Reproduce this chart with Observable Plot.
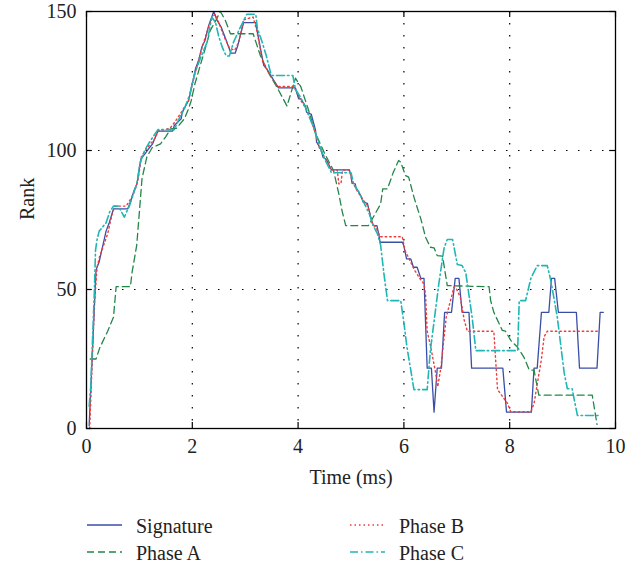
<!DOCTYPE html>
<html><head><meta charset="utf-8">
<script src="https://cdn.jsdelivr.net/npm/d3@7"></script>
<script src="https://cdn.jsdelivr.net/npm/@observablehq/plot@0.6"></script>
<style>
body{margin:0;background:#fff;font-family:"Liberation Serif",serif;}
#chart{width:640px;height:566px;position:relative;overflow:hidden;}
</style></head><body><div id="chart"></div>
<script>
// ---- data (time in ms, rank) ----
const xTicks = [0, 2, 4, 6, 8, 10];
const yTicks = [0, 50, 100, 150];

const sigT = [0.05,0.18,0.24,0.37,0.43,0.51,0.78,0.84,0.9,0.955,1.0,1.03,1.13,1.19,1.25,1.35,1.63,1.66,1.79,1.81,1.93,2.0,2.06,2.12,2.18,2.24,2.31,2.405,2.47,2.545,2.63,2.73,2.81,2.86,2.97,3.2,3.23,3.35,3.42,3.48,3.63,3.95,4.01,4.05,4.14,4.16,4.25,4.33,4.35,4.43,4.47,4.52,4.56,4.63,4.97,5.0,5.02,5.08,5.1,5.15,5.2,5.23,5.31,5.35,5.38,5.42,5.49,5.53,5.55,5.97,6.0,6.05,6.13,6.18,6.25,6.32,6.38,6.44,6.52,6.57,6.63,6.71,6.77,6.9,6.97,7.04,7.1,7.23,7.28,7.87,7.94,8.41,8.46,8.52,8.6,8.74,8.79,8.85,8.92,9.26,9.32,9.65,9.71,9.77];
const sigR = [1,57,60,71,74,79,79,82,85.6,88,94,97,99.4,101,102.4,107,107,109,111.4,113.8,118,124,129.4,132.4,137.2,139.6,145,150,146.8,144.4,140.2,135,135,137.8,146,146,142.6,130.6,129,127,122.5,122.5,118.6,118.6,116,113.8,113,107.2,103,100.6,97.6,97,95.8,93,93,91,88.2,88,86.2,85,83.2,81.4,81,77.8,75.4,73,73,69.4,67,67,65.7,61,61,58,58,54,54,21.7,21.7,5.9,21.7,21.7,41.8,41.8,54,54,41.8,41.8,21.7,21.7,5.9,5.9,21.7,21.7,41.8,41.8,54,54,41.8,41.8,21.7,21.7,41.8,41.8];

const phaseAT = [0.07,0.18,0.25,0.4,0.51,0.56,0.83,0.86,0.95,1.0,1.05,1.14,1.24,1.4,1.5,1.59,1.7,1.85,1.93,1.98,2.05,2.15,2.25,2.34,2.45,2.53,2.62,2.72,3.15,3.29,3.45,3.6,3.79,3.95,4.05,4.2,4.32,4.5,4.67,4.77,4.83,4.9,5.33,5.45,5.56,5.6,5.69,5.8,5.9,5.94,6.03,6.09,6.19,6.32,6.41,6.5,6.57,6.63,6.73,6.82,7.61,7.64,7.7,7.86,7.92,8.02,8.15,8.27,8.37,8.46,8.55,9.56,9.65];
const phaseAR = [25,25,29,35,40,51,51,56,66,78,90,97.6,101,102.4,105,107.8,108,111.4,115,118,124,130.6,137,143.2,147,150,147,142,142,134,127.6,122.8,116,126,123,114.4,106.6,99,92.8,84.4,78.4,73,73,77,80.8,86.2,86.2,92.2,96.4,95.8,91,90.4,83.2,75.4,68.8,65.2,65,62.2,62,51.4,51,46,41.8,35.3,35,31.7,29.2,25.6,21,21,12,12,1.5];

const phaseBT = [0.06,0.1,0.15,0.2,0.25,0.4,0.47,0.53,0.75,0.85,0.92,0.98,1.04,1.15,1.28,1.36,1.58,1.66,1.8,1.93,2.0,2.1,2.2,2.3,2.38,2.43,2.5,2.6,2.7,2.8,2.88,2.97,3.15,3.22,3.33,3.45,3.6,3.92,4.02,4.15,4.3,4.4,4.55,4.63,4.74,4.77,4.81,4.84,4.97,5.02,5.1,5.2,5.32,5.4,5.48,5.55,5.97,6.02,6.1,6.2,6.3,6.38,6.41,6.44,6.5,6.6,6.64,6.7,6.8,6.88,6.95,7.0,7.07,7.14,7.2,7.7,7.77,7.96,8.02,8.4,8.46,8.6,8.65,8.71,9.69];
const phaseBR = [0,20,45,58,62,70,76,80,80,83,86,90,98,101,104,107,108,110,114,118,124,131,138,144,148,149,146,141,137,136,139,147,148,143,132,128,123,123,119,115,108,101,96,93,93,88,88,93,93,89,86,83,80,74,72,69,69,64,61,57,54,52,48,35,30,20,15,22,40,46,51,50,47,39,35,35,14,9,6,6,9,25,33,35,35];

const phaseCT = [0.05,0.08,0.12,0.15,0.17,0.2,0.24,0.37,0.44,0.51,0.6,0.66,0.715,0.76,0.81,0.88,0.95,1.02,1.1,1.19,1.35,1.66,1.74,1.85,1.95,2.05,2.15,2.28,2.37,2.44,2.5,2.57,2.64,2.7,2.78,2.9,3.03,3.2,3.23,3.32,3.4,3.48,3.51,3.9,3.95,4.05,4.15,4.3,4.4,4.5,4.63,5.0,5.05,5.15,5.25,5.35,5.42,5.5,5.56,5.62,5.69,5.94,6.0,6.06,6.13,6.19,6.44,6.5,6.58,6.66,6.76,6.82,6.92,7.01,7.1,7.17,7.23,7.29,7.36,8.15,8.18,8.3,8.4,8.52,8.71,8.78,8.9,9.03,9.09,9.18,9.28,9.72];
const phaseCR = [8,15,35,50,64,68,71,74,78,80,80,78,76,78,80,84,88,96,100,103,107.5,107.5,111,115,120,128,133,139,148,146,141,137,134,134,139,144,149,149,144,139,134,128,127,127,122,119,115,108,102,97,92,92,88,85,81,77,73,70,66,56,46,46,38,29,21,14,14,28,40,52,65,68,68,59,58.6,56,48,40,28,28,46,46,54,58.6,58.6,53,40,20,14.3,14.3,4.7,4.7];

const series = [
  {name: "Signature", t: sigT, r: sigR, color: "#3a4ea6", dash: null, width: 1.3},
  {name: "Phase A", t: phaseAT, r: phaseAR, color: "#23874a", dash: "7,4", width: 1.3},
  {name: "Phase B", t: phaseBT, r: phaseBR, color: "#ee3b3b", dash: "1.5,3", width: 1.4},
  {name: "Phase C", t: phaseCT, r: phaseCR, color: "#22b5b5", dash: "8,3,1.5,3", width: 1.6}
];

const font = "Liberation Serif";
const fs = 20;

const lineMarks = series.map(s =>
  Plot.line(s.t.map((t, i) => ({t, r: s.r[i]})), {
    x: "t", y: "r", stroke: s.color, strokeWidth: s.width,
    strokeDasharray: s.dash ?? undefined, strokeLinejoin: "round", curve: "linear"
  })
);

const chart = Plot.plot({
  width: 640, height: 490,
  marginLeft: 86, marginRight: 25, marginTop: 11, marginBottom: 62,
  style: {fontFamily: font, fontSize: fs + "px", color: "black", background: "white", overflow: "visible"},
  x: {domain: [0, 10]},
  y: {domain: [0, 150]},
  marks: [
    Plot.gridX(xTicks.slice(1, -1), {stroke: "black", strokeOpacity: 1, strokeWidth: 1.2, strokeDasharray: "1.5,10.5"}),
    Plot.gridY(yTicks.slice(1, -1), {stroke: "black", strokeOpacity: 1, strokeWidth: 1.2, strokeDasharray: "1.5,10.5"}),
    ...lineMarks,
    Plot.ruleX(xTicks, {y1: 0, y2: 2.2, stroke: "black", strokeWidth: 1.2}),
    Plot.ruleX(xTicks, {y1: 150, y2: 147.8, stroke: "black", strokeWidth: 1.2}),
    Plot.ruleY(yTicks, {x1: 0, x2: 0.11, stroke: "black", strokeWidth: 1.2}),
    Plot.ruleY(yTicks, {x1: 10, x2: 9.89, stroke: "black", strokeWidth: 1.2}),
    Plot.frame({stroke: "black", strokeWidth: 1.3}),
    Plot.axisX(xTicks, {tickSize: 0, tickPadding: 10, label: null, fontSize: fs, fill: "#222"}),
    Plot.axisY(yTicks, {tickSize: 0, tickPadding: 10, label: null, fontSize: fs, fill: "#222"}),
    Plot.text(["Time (ms)"], {text: d => d, frameAnchor: "bottom", dy: 55, fontSize: fs, fill: "#222"}),
    Plot.text(["Rank"], {text: d => d, frameAnchor: "left", dx: -59, rotate: -90, fontSize: fs, fill: "#222"})
  ]
});

const root = document.getElementById("chart");
root.appendChild(chart);

// ---- legend below the plot ----
const legendPos = [
  {x: 87, y: 35},
  {x: 87, y: 62},
  {x: 350, y: 35},
  {x: 350, y: 62}
];
const ns = "http://www.w3.org/2000/svg";
const leg = document.createElementNS(ns, "svg");
leg.setAttribute("width", 640);
leg.setAttribute("height", 76);
leg.style.display = "block";
series.forEach((s, i) => {
  const p = legendPos[i];
  const ln = document.createElementNS(ns, "line");
  ln.setAttribute("x1", p.x); ln.setAttribute("x2", p.x + 35);
  ln.setAttribute("y1", p.y); ln.setAttribute("y2", p.y);
  ln.setAttribute("stroke", s.color);
  ln.setAttribute("stroke-width", s.width);
  if (s.dash) ln.setAttribute("stroke-dasharray", s.dash);
  leg.appendChild(ln);
  const tx = document.createElementNS(ns, "text");
  tx.setAttribute("x", p.x + 49);
  tx.setAttribute("y", p.y + 7.5);
  tx.setAttribute("font-family", font);
  tx.setAttribute("font-size", fs);
  tx.setAttribute("fill", "#222");
  tx.textContent = s.name;
  leg.appendChild(tx);
});
root.appendChild(leg);
</script>
</body></html>
